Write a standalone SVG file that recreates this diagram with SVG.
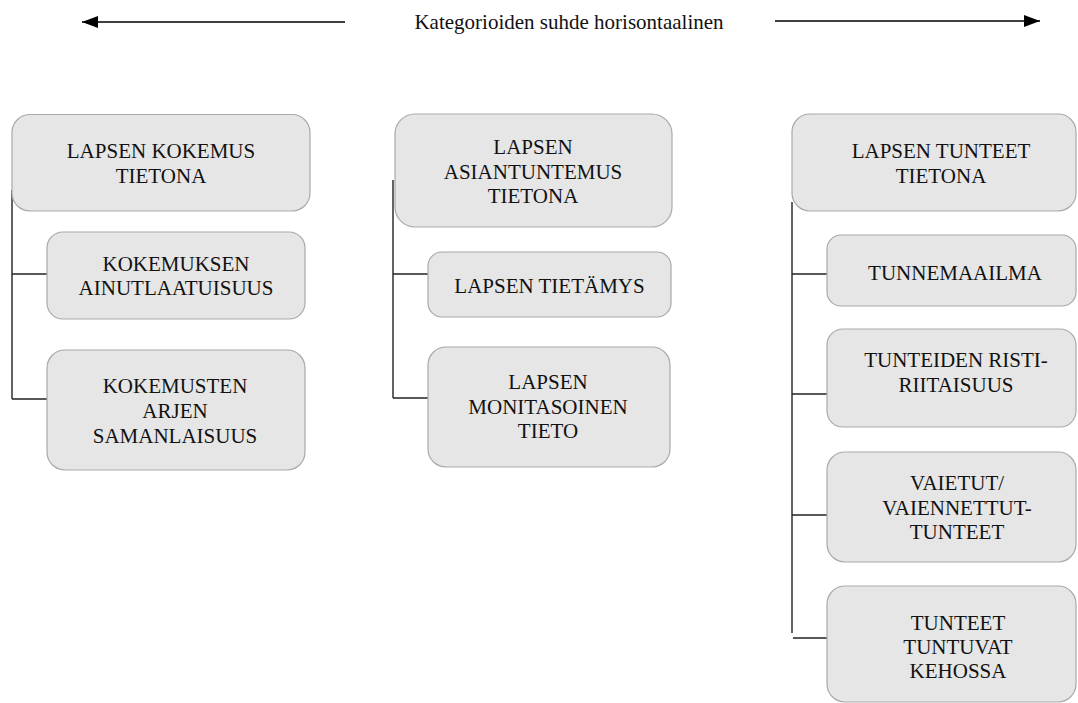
<svg xmlns="http://www.w3.org/2000/svg" width="1078" height="703" viewBox="0 0 1078 703">
<defs>
<style>
.box{fill:#e6e6e6;stroke:#a9a9a9;stroke-width:1.2}
.t{font-family:"Liberation Serif","Times New Roman",serif;font-size:21px;fill:#111;text-anchor:middle}
.c{stroke:#222;stroke-width:1.4;fill:none}
.a{stroke:#000;stroke-width:1.6;fill:none}
</style>
<marker id="ah" viewBox="0 0 16 12" refX="16" refY="6" markerWidth="16" markerHeight="12" markerUnits="userSpaceOnUse" orient="auto">
<path d="M0,0 L16,6 L0,12 Z" fill="#000"/>
</marker>
</defs>
<rect width="1078" height="703" fill="#fff"/>

<g id="header">
<line class="a" x1="345" y1="22" x2="82" y2="22" marker-end="url(#ah)"/>
<line class="a" x1="775" y1="21" x2="1040" y2="21" marker-end="url(#ah)"/>
<text class="t" x="569" y="29">Kategorioiden suhde horisontaalinen</text>
</g>

<g id="connectors">
<path class="c" d="M12,190 V399 M12,274 H47 M12,399 H47"/>
<path class="c" d="M393,180 V398 M393,274 H428 M393,398 H428"/>
<path class="c" d="M792,202 V633 M792,274 H827 M792,394 H827 M792,515 H827 M793,638 H827"/>
</g>

<g id="n1">
<rect class="box" x="12" y="114.5" width="298" height="96.5" rx="18"/>
<text class="t" x="161" y="158">LAPSEN KOKEMUS</text>
<text class="t" x="161" y="183">TIETONA</text>
</g>
<g id="n1a">
<rect class="box" x="47" y="232" width="258" height="87" rx="16"/>
<text class="t" x="176" y="271">KOKEMUKSEN</text>
<text class="t" x="176" y="295">AINUTLAATUISUUS</text>
</g>
<g id="n1b">
<rect class="box" x="47" y="350" width="258" height="120" rx="18"/>
<text class="t" x="175" y="393">KOKEMUSTEN</text>
<text class="t" x="175" y="418">ARJEN</text>
<text class="t" x="175" y="443">SAMANLAISUUS</text>
</g>

<g id="n2">
<rect class="box" x="395" y="114" width="277" height="113" rx="20"/>
<text class="t" x="533" y="154">LAPSEN</text>
<text class="t" x="533" y="179">ASIANTUNTEMUS</text>
<text class="t" x="533" y="203">TIETONA</text>
</g>
<g id="n2a">
<rect class="box" x="428" y="252" width="243" height="65" rx="14"/>
<text class="t" x="549.5" y="293">LAPSEN TIETÄMYS</text>
</g>
<g id="n2b">
<rect class="box" x="428" y="347" width="242" height="120" rx="18"/>
<text class="t" x="548" y="389">LAPSEN</text>
<text class="t" x="548" y="414">MONITASOINEN</text>
<text class="t" x="548" y="438">TIETO</text>
</g>

<g id="n3">
<rect class="box" x="792" y="114" width="284" height="97" rx="18"/>
<text class="t" x="941" y="158">LAPSEN TUNTEET</text>
<text class="t" x="941" y="183">TIETONA</text>
</g>
<g id="n3a">
<rect class="box" x="827" y="235" width="249" height="71" rx="14"/>
<text class="t" x="955" y="280">TUNNEMAAILMA</text>
</g>
<g id="n3b">
<rect class="box" x="827" y="329" width="249" height="98" rx="16"/>
<text class="t" x="956" y="367">TUNTEIDEN RISTI-</text>
<text class="t" x="956" y="392">RIITAISUUS</text>
</g>
<g id="n3c">
<rect class="box" x="827" y="452" width="249" height="110" rx="18"/>
<text class="t" x="957" y="490">VAIETUT/</text>
<text class="t" x="957" y="515">VAIENNETTUT-</text>
<text class="t" x="957" y="539">TUNTEET</text>
</g>
<g id="n3d">
<rect class="box" x="827" y="586" width="249" height="116" rx="18"/>
<text class="t" x="958" y="630">TUNTEET</text>
<text class="t" x="958" y="654">TUNTUVAT</text>
<text class="t" x="958" y="678">KEHOSSA</text>
</g>
</svg>
